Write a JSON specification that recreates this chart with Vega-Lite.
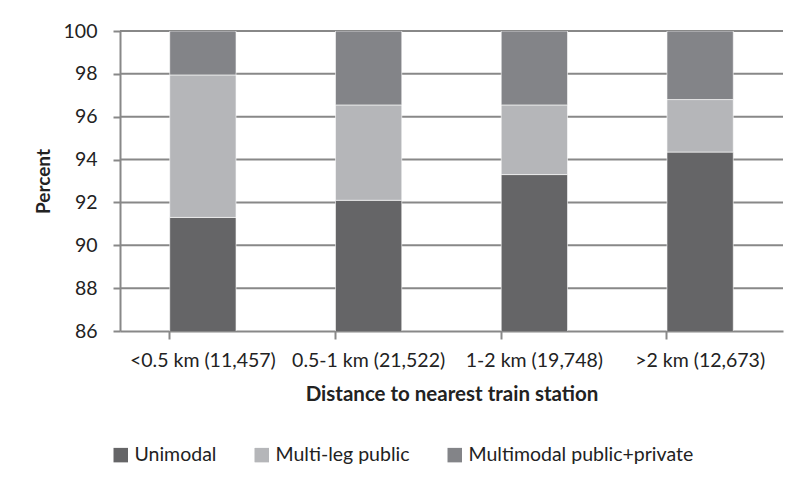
{
  "$schema": "https://vega.github.io/schema/vega-lite/v6.json",
  "width": 663,
  "height": 300,
  "autosize": {"type": "none"},
  "padding": {"left": 120, "top": 31, "right": 15, "bottom": 152},
  "background": "white",
  "config": {
    "font": "Lato",
    "view": {"stroke": null},
    "axis": {"labelFont": "Lato", "titleFont": "Lato", "labelColor": "#222222", "titleColor": "#222222"}
  },
  "datasets": {
    "bars": [
      {"distance": "<0.5 km (11,457)", "mode": "Unimodal", "ord": 1, "percent": 91.3},
      {"distance": "<0.5 km (11,457)", "mode": "Multi-leg public", "ord": 2, "percent": 6.65},
      {"distance": "<0.5 km (11,457)", "mode": "Multimodal public+private", "ord": 3, "percent": 2.05},
      {"distance": "0.5-1 km (21,522)", "mode": "Unimodal", "ord": 1, "percent": 92.1},
      {"distance": "0.5-1 km (21,522)", "mode": "Multi-leg public", "ord": 2, "percent": 4.45},
      {"distance": "0.5-1 km (21,522)", "mode": "Multimodal public+private", "ord": 3, "percent": 3.45},
      {"distance": "1-2 km (19,748)", "mode": "Unimodal", "ord": 1, "percent": 93.3},
      {"distance": "1-2 km (19,748)", "mode": "Multi-leg public", "ord": 2, "percent": 3.25},
      {"distance": "1-2 km (19,748)", "mode": "Multimodal public+private", "ord": 3, "percent": 3.45},
      {"distance": ">2 km (12,673)", "mode": "Unimodal", "ord": 1, "percent": 94.35},
      {"distance": ">2 km (12,673)", "mode": "Multi-leg public", "ord": 2, "percent": 2.45},
      {"distance": ">2 km (12,673)", "mode": "Multimodal public+private", "ord": 3, "percent": 3.2}
    ],
    "gridlevels": [
      {"level": 88}, {"level": 90}, {"level": 92}, {"level": 94}, {"level": 96}, {"level": 98}, {"level": 100}
    ]
  },
  "layer": [
    {
      "data": {"name": "gridlevels"},
      "mark": {"type": "rule", "color": "#888888", "strokeWidth": 2},
      "encoding": {
        "y": {"field": "level", "type": "quantitative", "scale": {"domain": [86, 100], "zero": false, "nice": false}}
      }
    },
    {
      "data": {"name": "bars"},
      "mark": {"type": "bar", "clip": true, "stroke": "#ffffff", "strokeWidth": 0.6},
      "encoding": {
        "x": {
          "field": "distance",
          "type": "nominal",
          "sort": null,
          "scale": {"paddingInner": 0.6, "paddingOuter": 0.3},
          "axis": {
            "title": "Distance to nearest train station",
            "titleFontSize": 20.5,
            "titleFontWeight": "bold",
            "titlePadding": 15,
            "labelAngle": 0,
            "labelFontSize": 19.5,
            "labelPadding": 12,
            "ticks": true,
            "bandPosition": 0,
            "tickSize": 8,
            "tickWidth": 2,
            "tickColor": "#888888",
            "domainColor": "#888888",
            "domainWidth": 2,
            "labelLimit": 300
          }
        },
        "y": {
          "field": "percent",
          "type": "quantitative",
          "stack": "zero",
          "scale": {"domain": [86, 100], "zero": false, "nice": false},
          "axis": {
            "title": "Percent",
            "titleFontSize": 19,
            "titleFontWeight": "bold",
            "titlePadding": 10,
            "values": [86, 88, 90, 92, 94, 96, 98, 100],
            "labelFontSize": 19.5,
            "labelPadding": 16,
            "ticks": true,
            "tickSize": 7,
            "tickWidth": 2,
            "tickColor": "#888888",
            "domainColor": "#888888",
            "domainWidth": 2,
            "grid": false
          }
        },
        "order": {"field": "ord", "type": "quantitative"},
        "color": {
          "field": "mode",
          "type": "nominal",
          "scale": {
            "domain": ["Unimodal", "Multi-leg public", "Multimodal public+private"],
            "range": ["#656567", "#b5b6b9", "#838488"]
          },
          "legend": {
            "title": null,
            "orient": "none",
            "direction": "horizontal",
            "legendX": -9,
            "legendY": 414,
            "symbolType": "square",
            "symbolSize": 210,
            "symbolStrokeWidth": 0,
            "labelFontSize": 19.5,
            "labelColor": "#222222",
            "labelOffset": 4,
            "columnPadding": 35,
            "labelLimit": 400
          }
        }
      }
    }
  ]
}
